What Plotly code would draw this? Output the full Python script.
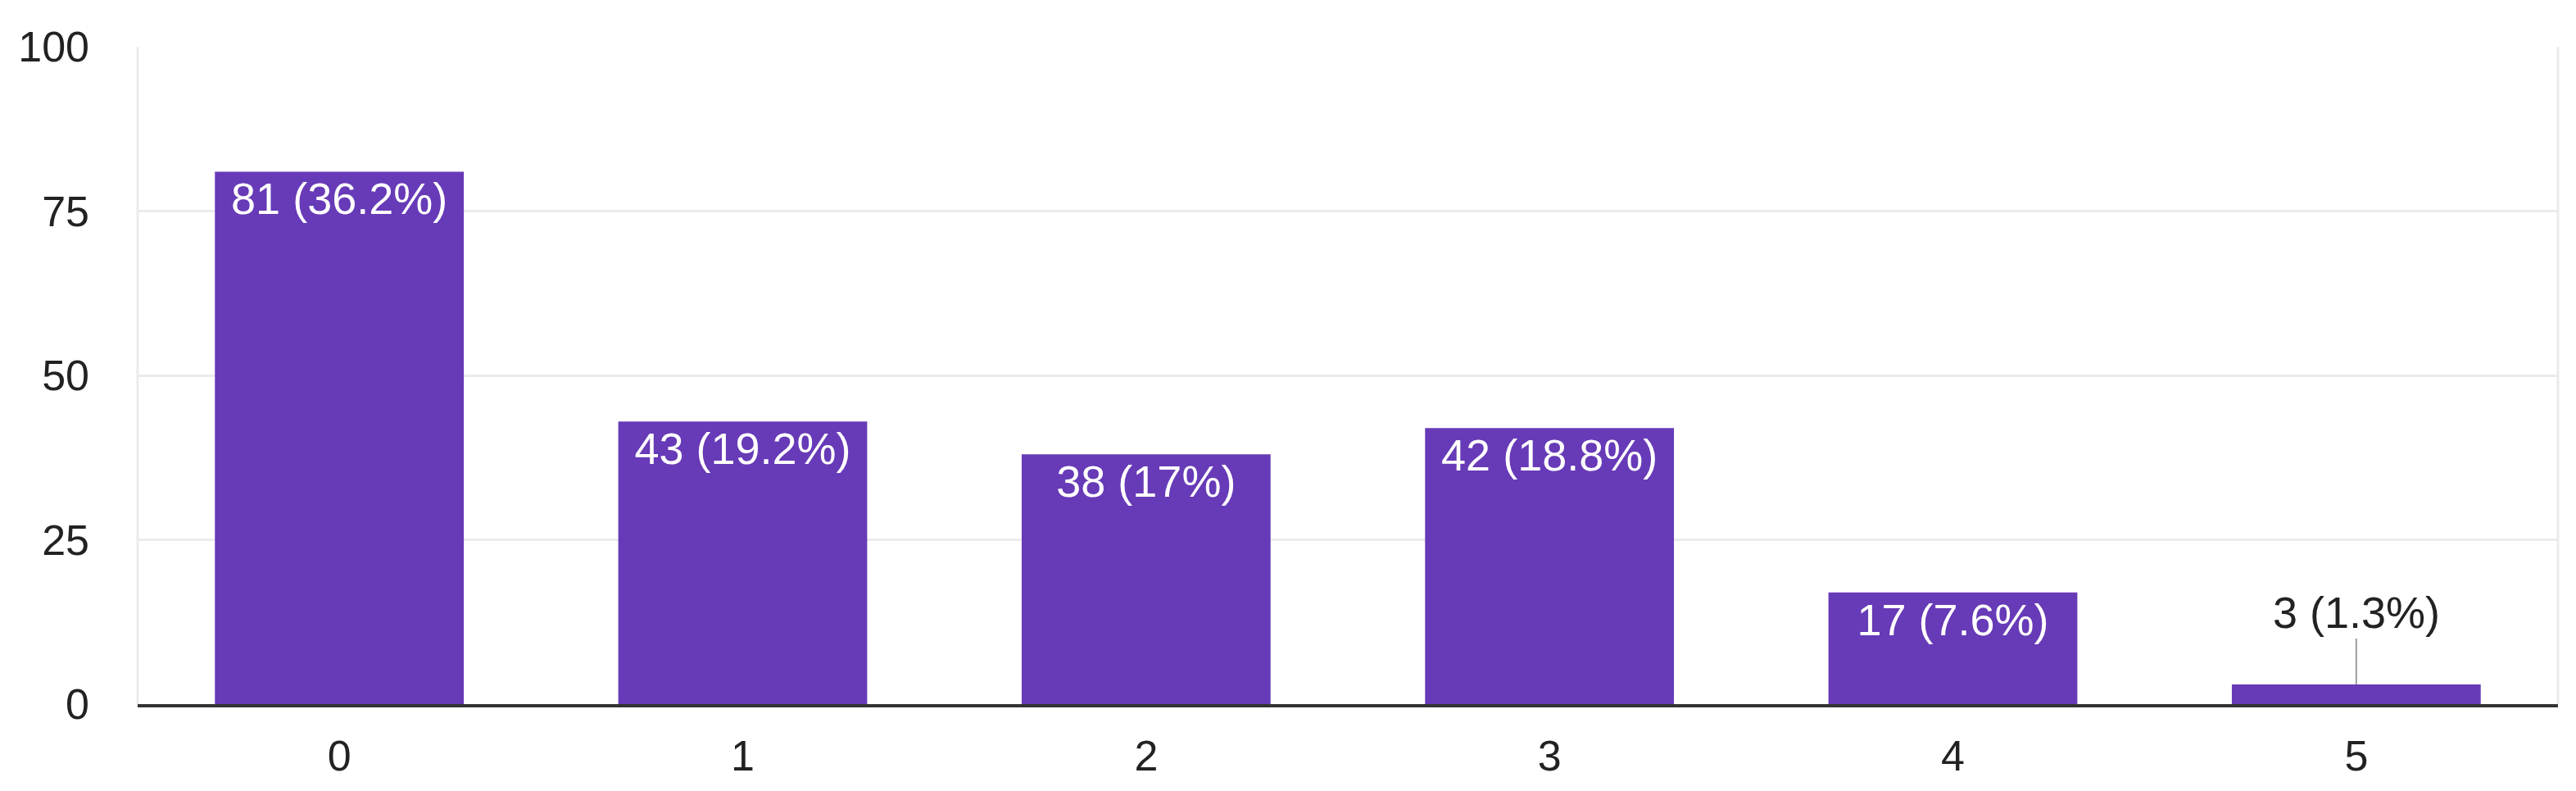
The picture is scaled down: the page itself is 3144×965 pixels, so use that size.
import plotly.graph_objects as go

categories = ["0", "1", "2", "3", "4", "5"]
counts = [81, 43, 38, 42, 17, 3]
percents = ["36.2%", "19.2%", "17%", "18.8%", "7.6%", "1.3%"]
y_ticks = [0, 25, 50, 75, 100]

FONT = "Liberation Sans, Arial, sans-serif"
labels = [f"{c} ({p})" for c, p in zip(counts, percents)]
inside_text = [l if c > 10 else "" for l, c in zip(labels, counts)]

fig = go.Figure()
fig.add_trace(go.Bar(
    x=categories, y=counts,
    marker=dict(color="#673ab7", line=dict(width=0)),
    width=0.617,
    text=inside_text,
    textposition="inside",
    insidetextanchor="end",
    constraintext="none",
    textfont=dict(family=FONT, size=54, color="white"),
    cliponaxis=False,
    hoverinfo="skip",
))

for cat, c, l in zip(categories, counts, labels):
    if c <= 10:
        fig.add_annotation(
            x=cat, y=c, text=l, showarrow=True, arrowhead=0,
            arrowwidth=2, arrowcolor="#9e9e9e", ax=0, ay=-56,
            yanchor="bottom",
            font=dict(family=FONT, size=54, color="#222222"),
        )

fig.update_layout(
    width=3144, height=965,
    margin=dict(l=160, r=30, t=49, b=114),
    plot_bgcolor="white", paper_bgcolor="white",
    showlegend=False,
)
fig.update_xaxes(
    type="category",
    showgrid=False, zeroline=False,
    showline=True, linecolor="#333333", linewidth=4,
    tickfont=dict(family=FONT, size=52, color="#222222"),
    ticks="", ticklabelstandoff=15,
)
fig.update_yaxes(
    range=[0, 100], tickvals=y_ticks,
    showgrid=True, gridcolor="#ebebeb", gridwidth=3,
    zeroline=False, showline=False,
    tickfont=dict(family=FONT, size=52, color="#222222"),
    ticks="", ticklabelstandoff=58,
)
# light vertical frame lines at both plot edges
fig.add_shape(type="line", xref="paper", yref="paper", x0=0, x1=0, y0=0, y1=1,
              line=dict(color="#ebebeb", width=3), layer="below")
fig.add_shape(type="line", xref="paper", yref="paper", x0=1, x1=1, y0=0, y1=1,
              line=dict(color="#ebebeb", width=3), layer="below")

fig.write_html("out.html")
